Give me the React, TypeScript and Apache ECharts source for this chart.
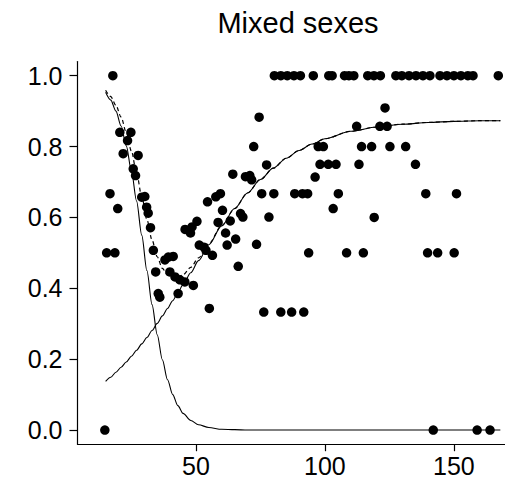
import React, { useEffect, useRef } from "react";
import * as echarts from "echarts";

const titleText = "Mixed sexes";
const xTicks = [50, 100, 150];
const yTicks = [0, 0.2, 0.4, 0.6, 0.8, 1.0];

// observed proportions (x, y)
const observations: [number, number][] = [
  [14.7, 0.0], [15.4, 0.5], [18.6, 0.5], [17.8, 1.0], [16.7, 0.667], [19.7, 0.625],
  [20.5, 0.84], [24.8, 0.84], [23.5, 0.817], [21.8, 0.78], [27.6, 0.775], [25.7, 0.737],
  [26.6, 0.718], [29.0, 0.657], [30.2, 0.659], [30.9, 0.629], [31.5, 0.612], [32.4, 0.571],
  [33.5, 0.507], [38.0, 0.48], [39.3, 0.488], [41.2, 0.49], [34.4, 0.446], [39.9, 0.446],
  [41.9, 0.432], [43.8, 0.424], [45.7, 0.418], [49.0, 0.408], [35.4, 0.385], [36.0, 0.375],
  [43.1, 0.385], [45.8, 0.566], [47.9, 0.556], [48.5, 0.573], [50.4, 0.589], [51.3, 0.522],
  [53.1, 0.516], [53.9, 0.507], [56.4, 0.493], [55.2, 0.343], [54.5, 0.644], [57.7, 0.658],
  [59.5, 0.667], [60.3, 0.62], [58.6, 0.586], [63.3, 0.59], [67.3, 0.611], [68.2, 0.601],
  [61.5, 0.556], [65.4, 0.539], [62.1, 0.522], [66.4, 0.462], [64.3, 0.722], [69.2, 0.715],
  [70.9, 0.718], [71.6, 0.706], [74.5, 0.883], [72.4, 0.8], [77.4, 0.748], [75.5, 0.667],
  [80.2, 0.667], [88.3, 0.667], [91.3, 0.667], [93.3, 0.667], [78.3, 0.601], [73.5, 0.524],
  [76.3, 0.333], [82.9, 0.333], [87.1, 0.333], [91.8, 0.333], [93.7, 0.5], [96.2, 0.714],
  [97.4, 0.8], [99.4, 0.8], [98.1, 0.75], [101.3, 0.75], [104.3, 0.75], [105.2, 0.667],
  [103.2, 0.625], [108.4, 0.5], [114.9, 0.5], [112.3, 0.857], [121.3, 0.857], [124.1, 0.857],
  [123.3, 0.909], [114.2, 0.8], [118.1, 0.8], [125.2, 0.8], [131.3, 0.8], [113.2, 0.75],
  [135.1, 0.75], [119.1, 0.6], [139.1, 0.667], [151.0, 0.667], [139.8, 0.5], [143.7, 0.5],
  [150.1, 0.5], [142.0, 0.0], [159.0, 0.0], [164.0, 0.0],
  [80.4, 1.0], [82.9, 1.0], [85.4, 1.0], [88.0, 1.0], [90.5, 1.0], [95.5, 1.0],
  [101.5, 1.0], [102.8, 1.0], [107.6, 1.0], [109.3, 1.0], [111.2, 1.0], [116.6, 1.0],
  [119.0, 1.0], [121.5, 1.0], [127.5, 1.0], [129.8, 1.0], [132.6, 1.0], [135.3, 1.0],
  [138.0, 1.0], [140.7, 1.0], [144.6, 1.0], [147.3, 1.0], [150.0, 1.0], [152.7, 1.0],
  [155.4, 1.0], [157.4, 1.0], [167.2, 1.0],
];

// fitted curves at these x positions
const curveX = [15, 17, 19, 21, 23, 25, 27, 29, 31, 33, 35, 37, 39, 41, 43, 45, 48, 51, 55, 60,
  65, 70, 75, 80, 85, 90, 95, 100, 110, 120, 130, 140, 150, 160, 168];
const declineY = [0.953, 0.931, 0.9, 0.858, 0.802, 0.731, 0.646, 0.55, 0.45, 0.354, 0.269, 0.198,
  0.142, 0.1, 0.069, 0.047, 0.027, 0.015, 0.007, 0.002, 0.001, 0, 0, 0, 0, 0, 0, 0, 0, 0, 0, 0, 0, 0, 0];
const riseY = [0.137, 0.149, 0.163, 0.177, 0.192, 0.208, 0.225, 0.243, 0.261, 0.281, 0.301, 0.322,
  0.343, 0.365, 0.388, 0.41, 0.444, 0.478, 0.523, 0.576, 0.625, 0.669, 0.707, 0.739, 0.767, 0.789,
  0.807, 0.822, 0.843, 0.855, 0.863, 0.868, 0.871, 0.873, 0.873];
const combinedY = [0.959, 0.941, 0.916, 0.883, 0.84, 0.787, 0.725, 0.659, 0.594, 0.536, 0.489, 0.456,
  0.437, 0.429, 0.43, 0.438, 0.459, 0.486, 0.526, 0.577, 0.625, 0.669, 0.707, 0.739, 0.767, 0.789,
  0.807, 0.822, 0.843, 0.855, 0.863, 0.868, 0.871, 0.873, 0.873];

const FONT = '"Liberation Sans", Arial, Helvetica, sans-serif';

function pairs(xs: number[], ys: number[]) {
  return xs.map((x, i) => [x, ys[i]]);
}

export default function App() {
  const ref = useRef<HTMLDivElement>(null);
  useEffect(() => {
    if (!ref.current) return;
    const chart = echarts.init(ref.current, null, { renderer: "svg" });
    const lineBase = {
      type: "line" as const,
      showSymbol: false,
      symbol: "none",
      smooth: 0.3,
      smoothMonotone: "x" as const,
      silent: true,
    };
    chart.setOption({
      animation: false,
      backgroundColor: "#fff",
      title: {
        text: titleText,
        left: 293,
        top: 3,
        textAlign: "center",
        textStyle: { fontFamily: FONT, fontSize: 29, fontWeight: "normal", color: "#000" },
      },
      grid: { left: 77.5, right: 0, top: 61.5, bottom: 37.8, containLabel: false },
      xAxis: {
        type: "value",
        min: 4.1,
        max: 169.8,
        axisLine: { show: true, onZero: false, lineStyle: { color: "#000", width: 1.2 } },
        axisTick: { show: true, length: 7, customValues: xTicks, lineStyle: { color: "#000", width: 1.2 } },
        axisLabel: {
          customValues: xTicks,
          fontFamily: FONT,
          fontSize: 25,
          color: "#000",
          margin: 9,
          showMinLabel: true,
          showMaxLabel: true,
        },
        splitLine: { show: false },
      },
      yAxis: {
        type: "value",
        min: -0.04,
        max: 1.04,
        axisLine: { show: true, onZero: false, lineStyle: { color: "#000", width: 1.2 } },
        axisTick: { show: true, length: 8, customValues: yTicks, lineStyle: { color: "#000", width: 1.2 } },
        axisLabel: {
          customValues: yTicks,
          fontFamily: FONT,
          fontSize: 25,
          color: "#000",
          margin: 15,
          formatter: (v: number) => v.toFixed(1),
        },
        splitLine: { show: false },
      },
      series: [
        {
          ...lineBase,
          name: "decline",
          data: pairs(curveX, declineY),
          lineStyle: { color: "#000", width: 1.1 },
          z: 2,
        },
        {
          ...lineBase,
          name: "rise",
          data: pairs(curveX, riseY),
          lineStyle: { color: "#000", width: 1.1 },
          z: 2,
        },
        {
          ...lineBase,
          name: "combined",
          data: pairs(curveX, combinedY),
          lineStyle: { color: "#000", width: 1.2, type: [4, 3] },
          z: 3,
        },
        {
          type: "scatter",
          name: "observed",
          data: observations,
          symbol: "circle",
          symbolSize: 9.5,
          itemStyle: { color: "#000", opacity: 1 },
          emphasis: { disabled: true },
          z: 4,
        },
      ],
    });
    return () => chart.dispose();
  }, []);
  return (
    <div
      ref={ref}
      style={{ position: "fixed", left: 0, top: 0, width: 505, height: 482, background: "#fff" }}
    />
  );
}
